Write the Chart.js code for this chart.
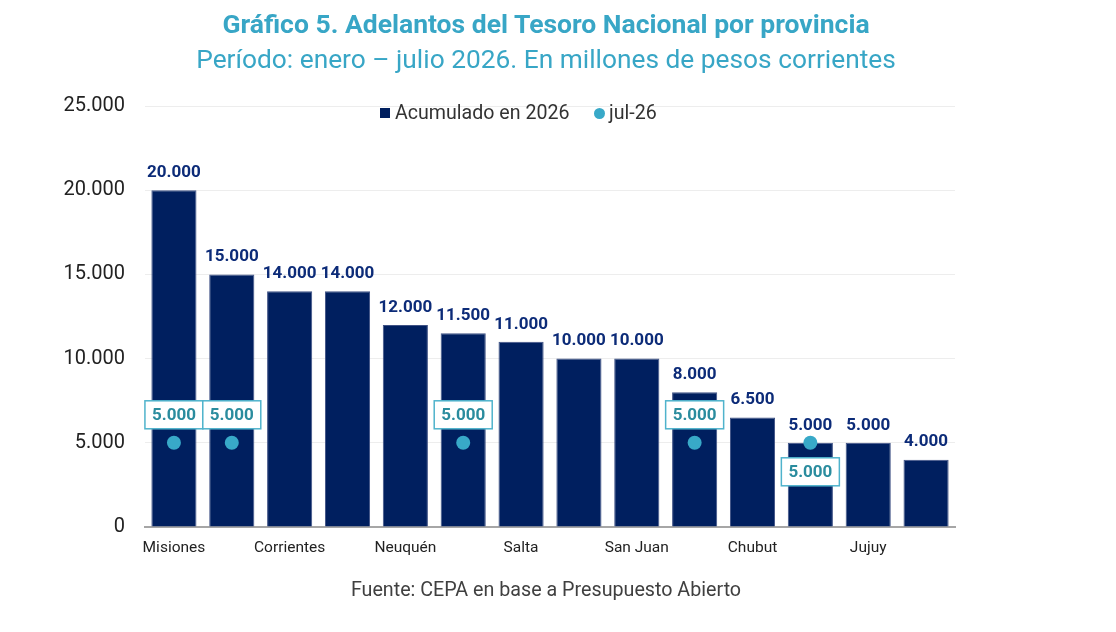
<!DOCTYPE html>
<html>
<head>
<meta charset="utf-8">
<script src="https://cdn.jsdelivr.net/npm/chart.js@4"></script>
<style>
  html,body{margin:0;padding:0;background:#fff;}
  body{width:1116px;height:632px;position:relative;overflow:hidden;font-family:Roboto,"Noto Sans",sans-serif;}
  #wrap{position:absolute;left:0;top:0;width:1116px;height:632px;}
  .t{position:absolute;left:-12px;width:1116px;text-align:center;color:#38A6C6;white-space:nowrap;}
  #title{top:9px;font-size:26.5px;font-weight:700;line-height:30px;}
  #subtitle{top:44px;font-size:26.3px;font-weight:400;line-height:30px;}
  #source{top:578px;font-size:19.7px;line-height:24px;color:#404040;}
  .lg{position:absolute;font-size:19.6px;color:#333;line-height:22px;white-space:nowrap;}
  .sq{position:absolute;width:10px;height:10px;background:#001F5F;}
  .ci{position:absolute;width:11px;height:11px;border-radius:50%;background:#38A9C8;}
</style>
</head>
<body>
<div id="wrap"><canvas id="c" width="1116" height="632"></canvas></div>
<div class="t" id="title">Gráfico 5. Adelantos del Tesoro Nacional por provincia</div>
<div class="t" id="subtitle">Período: enero – julio 2026. En millones de pesos corrientes</div>
<div class="sq" style="left:380px;top:108px;"></div>
<div class="lg" style="left:395px;top:102px;">Acumulado en 2026</div>
<div class="ci" style="left:594px;top:108px;"></div>
<div class="lg" style="left:609px;top:102px;">jul-26</div>
<div class="t" id="source">Fuente: CEPA en base a Presupuesto Abierto</div>
<script>
const categories = ["Misiones", "", "Corrientes", "", "Neuquén", "", "Salta", "", "San Juan", "", "Chubut", "", "Jujuy", ""];
const acumulado2026 = [20000, 15000, 14000, 14000, 12000, 11500, 11000, 10000, 10000, 8000, 6500, 5000, 5000, 4000];
const jul26 = [5000, 5000, null, null, null, 5000, null, null, null, 5000, null, 5000, null, null];
const yTicks = [0, 5000, 10000, 15000, 20000, 25000];

const fmt = v => v.toLocaleString('de-DE');

const labelPlugin = {
  id: 'labels',
  afterDatasetsDraw(chart) {
    const ctx = chart.ctx;
    ctx.save();
    const barMeta = chart.getDatasetMeta(0);
    ctx.font = 'bold 17px Roboto';
    ctx.fillStyle = '#0C2B78';
    ctx.textAlign = 'center';
    ctx.textBaseline = 'bottom';
    barMeta.data.forEach((el, i) => {
      ctx.fillText(fmt(acumulado2026[i]), el.x, el.y - 9);
    });
    const ptMeta = chart.getDatasetMeta(1);
    ptMeta.data.forEach((el, i) => {
      const v = jul26[i];
      if (v === null || v === undefined) return;
      const below = acumulado2026[i] <= v;
      const cy = below ? el.y + 29 : el.y - 28;
      const w = 58, h = 28;
      ctx.fillStyle = '#ffffff';
      ctx.fillRect(el.x - w/2, cy - h/2, w, h);
      ctx.strokeStyle = '#4FB3CC';
      ctx.lineWidth = 1.5;
      ctx.strokeRect(el.x - w/2, cy - h/2, w, h);
      ctx.fillStyle = '#2A8C9E';
      ctx.font = 'bold 17px Roboto';
      ctx.textBaseline = 'middle';
      ctx.fillText(fmt(v), el.x, cy + 1);
    });
    ctx.restore();
  }
};

new Chart(document.getElementById('c'), {
  data: {
    labels: categories,
    datasets: [
      {
        type: 'bar',
        label: 'Acumulado en 2026',
        data: acumulado2026,
        backgroundColor: '#001F5F',
        borderColor: '#3F5285',
        borderWidth: 1,
        categoryPercentage: 1,
        barPercentage: 0.78,
        order: 2
      },
      {
        type: 'line',
        label: 'jul-26',
        data: jul26,
        showLine: false,
        pointRadius: 7,
        pointHoverRadius: 7,
        pointBackgroundColor: '#38A9C8',
        pointBorderColor: '#38A9C8',
        pointBorderWidth: 0,
        order: 1
      }
    ]
  },
  options: {
    responsive: false,
    animation: false,
    devicePixelRatio: 1,
    layout: { padding: { left: 0, top: 106, right: 161, bottom: 65 } },
    plugins: {
      legend: { display: false },
      tooltip: { enabled: false },
      title: { display: false }
    },
    scales: {
      x: {
        grid: { display: false, drawTicks: false },
        border: { display: true, color: '#A6A6A6', width: 2 },
        ticks: {
          autoSkip: false,
          maxRotation: 0,
          padding: 12,
          color: '#222',
          font: { family: 'Roboto', size: 15.5 }
        },
        afterFit(scale) { scale.height = 40; }
      },
      y: {
        min: 0,
        max: 25000,
        afterBuildTicks(scale) { scale.ticks = yTicks.map(v => ({ value: v })); },
        grid: { color: '#EDEDED', lineWidth: 1, drawTicks: false },
        border: { display: false },
        ticks: {
          padding: 20,
          color: '#222',
          font: { family: 'Roboto', size: 20 },
          callback: v => fmt(v)
        },
        afterFit(scale) { scale.width = 145; }
      }
    }
  },
  plugins: [labelPlugin]
});
</script>
</body>
</html>
